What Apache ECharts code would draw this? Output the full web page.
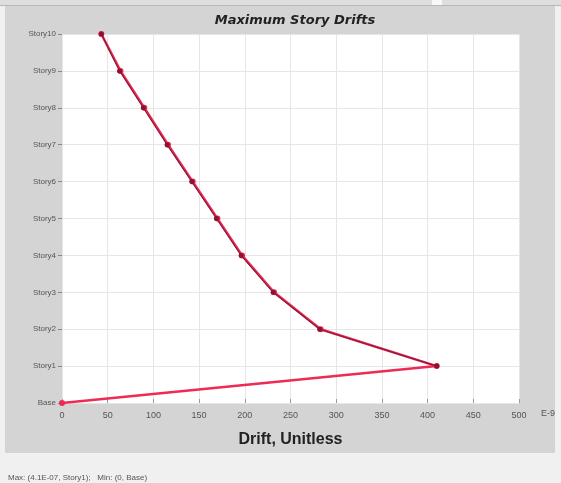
<!DOCTYPE html>
<html><head><meta charset="utf-8">
<script src="https://cdn.jsdelivr.net/npm/echarts@6/dist/echarts.min.js"></script>
<style>html,body{margin:0;padding:0;background:#f0f0f0}#c{width:561px;height:483px}</style>
</head><body><div id="c"></div>
<script>
const stories = ['Base','Story1','Story2','Story3','Story4','Story5','Story6','Story7','Story8','Story9','Story10'];
const driftA = [0, 410, 283, 232, 197, 170, 143, 116, 90, 64, 43];
const driftB = [null, 410, 282, 231, 196, 169, 142, 115, 89, 63, 43];
const xTicks = [0, 50, 100, 150, 200, 250, 300, 350, 400, 450, 500];

const chart = echarts.init(document.getElementById('c'));
chart.setOption({
  backgroundColor: '#f0f0f0',
  animation: false,
  title: {
    text: 'Maximum Story Drifts', left: 290, top: 9, textAlign: 'center',
    textStyle: {fontFamily: 'DejaVu Sans', fontSize: 13, fontWeight: 'bold', fontStyle: 'italic', color: '#222'}
  },
  graphic: [
    {type: 'rect', z: -100, shape: {x: 0, y: 0, width: 561, height: 5}, style: {fill: '#dedede'}},
    {type: 'rect', z: -100, shape: {x: 432, y: 0, width: 10, height: 5}, style: {fill: '#f8f8f8'}},
    {type: 'rect', z: -100, shape: {x: 0, y: 5, width: 561, height: 1}, style: {fill: '#b8b8b8'}},
    {type: 'rect', z: -100, shape: {x: 5, y: 6, width: 550, height: 447}, style: {fill: '#d4d4d4'}},
    {type: 'text', left: 541, top: 409, style: {text: 'E-9', fontSize: 9, fontFamily: 'Liberation Sans', fill: '#555'}},
    {type: 'text', left: 8, top: 474, style: {text: 'Max: (4.1E-07, Story1);   Min: (0, Base)', fontSize: 8, fontFamily: 'Liberation Sans', fill: '#555'}}
  ],
  grid: {left: 62, right: 42, top: 34, bottom: 80, show: true, backgroundColor: '#ffffff', borderWidth: 0},
  xAxis: {
    type: 'value', min: 0, max: 500, interval: 50,
    name: 'Drift, Unitless', nameLocation: 'middle', nameGap: 29,
    nameTextStyle: {fontFamily: 'Liberation Sans', fontSize: 16, fontWeight: 'bold', color: '#222'},
    axisLine: {show: false},
    axisTick: {show: true, inside: true, length: 4, lineStyle: {color: '#999'}},
    axisLabel: {fontFamily: 'Liberation Sans', fontSize: 9, color: '#555', margin: 8,
      formatter: v => xTicks.includes(v) ? String(v) : ''},
    splitLine: {show: true, lineStyle: {color: '#e6e6e6'}}
  },
  yAxis: {
    type: 'category', data: stories, boundaryGap: false,
    axisLine: {show: false},
    axisTick: {show: true, length: 4, lineStyle: {color: '#888'}},
    axisLabel: {fontFamily: 'Liberation Sans', fontSize: 8, color: '#555', margin: 6},
    splitLine: {show: true, lineStyle: {color: '#e6e6e6'}}
  },
  series: [
    {type: 'line', data: driftA.map((v, i) => [v, stories[i]]), symbol: 'circle', symbolSize: 6,
      itemStyle: {color: '#ee2a55'}, lineStyle: {color: '#ee2a55', width: 2.5}, z: 2},
    {type: 'line', data: driftB.map((v, i) => v === null ? null : [v, stories[i]]), symbol: 'circle', symbolSize: 5,
      itemStyle: {color: '#8a1232'}, lineStyle: {color: '#8a1c3a', width: 1.2}, z: 3}
  ]
});
</script></body></html>
